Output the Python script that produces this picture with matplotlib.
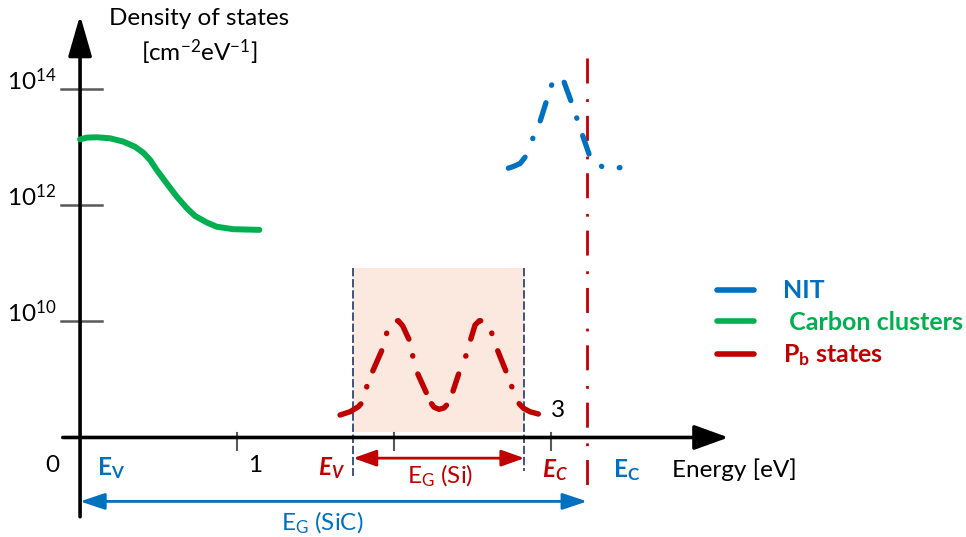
import matplotlib
matplotlib.use("Agg")
import matplotlib.pyplot as plt
from matplotlib.lines import Line2D

# ---- values (energy in eV, DOS in cm^-2 eV^-1) ----
carbon_energy = [0.0, 0.043, 0.106, 0.191, 0.276, 0.350, 0.403, 0.446, 0.488, 0.552,
                 0.616, 0.680, 0.732, 0.807, 0.871, 0.976, 1.142]
carbon_dos = [1.38e13, 1.48e13, 1.50e13, 1.44e13, 1.26e13, 1.03e13, 8.1e12, 6.1e12, 4.1e12,
              2.4e12, 1.42e12, 9.0e11, 6.6e11, 5.1e11, 4.3e11, 3.9e11, 3.8e11]

nit_energy = [2.728, 2.760, 2.803, 2.845, 2.884, 2.926, 2.973, 3.004, 3.045, 3.078, 3.132,
              3.164, 3.196, 3.248, 3.323, 3.418, 3.439]
nit_dos = [4.4e12, 4.7e12, 5.3e12, 7.4e12, 1.44e13, 2.6e13, 6.6e13, 1.2e14, 1.52e14, 1.46e14,
           5.8e13, 3.2e13, 1.76e13, 6.9e12, 4.7e12, 4.4e12, 4.5e12]

pb_energy = [1.656, 1.720, 1.773, 1.801, 1.826, 1.858, 1.928, 1.953, 2.006, 2.027, 2.055,
             2.085, 2.102, 2.119, 2.145, 2.212, 2.229, 2.255, 2.287, 2.318, 2.346, 2.378,
             2.416, 2.457, 2.484, 2.516, 2.543, 2.569, 2.622, 2.654, 2.718, 2.750, 2.785,
             2.824, 2.866, 2.919]
pb_dos = [2.44e8, 2.78e8, 3.40e8, 4.14e8, 7.5e8, 1.28e9, 3.45e9, 6.3e9, 1.02e10, 1.03e10,
          8.4e9, 5.6e9, 4.5e9, 2.54e9, 1.36e9, 5.4e8, 4.14e8, 3.32e8, 3.06e8, 3.23e8, 3.89e8,
          6.6e8, 1.36e9, 2.54e9, 4.5e9, 8.7e9, 1.03e10, 1.03e10, 6.3e9, 3.45e9, 1.28e9,
          7.5e8, 4.14e8, 3.19e8, 2.78e8, 2.54e8]

si_ev, si_ec = 1.74, 2.83       # Si band edges inside the SiC gap
sic_ec = 3.23                   # SiC conduction band edge
x_ticks = [1, 2, 3]
y_ticks = [1e10, 1e12, 1e14]
y_tick_labels = [r"$\mathregular{10^{10}}$", r"$\mathregular{10^{12}}$", r"$\mathregular{10^{14}}$"]

BLUE = "#0070C0"
GREEN = "#00B050"
RED = "#C00000"
NAVY = "#1F3864"
PEACH = "#FBE9E0"
GREY = "#595959"

# hand-drawn dash-dot sequences (pixels along the curve), as in the original drawing
PX = 0.72
nit_dashes = [v * PX for v in [20.7, 20.2, 0.4, 18.9, 19, 18.3, 0.4, 16.6, 19.4, 18.3,
                               0.4, 18.3, 19.4, 17.9, 0.4, 17.6, 10, 10]]
pb_dashes = [v * PX for v in [24, 18.2, 0.4, 16.8, 21.9, 18, 0.4, 17.3, 22.1, 17.1,
                              0.4, 18.7, 20.2, 12.6, 18.5, 15.8, 17.9, 19.3, 0.4, 17.4,
                              22.1, 17.6, 0.4, 18.3, 21.5, 16.8, 0.4, 18.5, 30, 10]]

plt.rcParams["font.family"] = ["Lato", "DejaVu Sans"]
plt.rcParams["mathtext.fontset"] = "custom"
plt.rcParams["mathtext.rm"] = "Lato"
plt.rcParams["mathtext.it"] = "Lato:italic"
plt.rcParams["mathtext.bf"] = "Lato:bold"
plt.rcParams["mathtext.bfit"] = "Lato:italic:bold"
plt.rcParams["lines.scale_dashes"] = False

fig = plt.figure(figsize=(9.66, 5.37), dpi=100)
ax = fig.add_axes([0, 0, 1, 1])
ax.set_yscale("log")
ax.set_xlim(-0.51, 5.643)
ax.set_ylim(10 ** 6.284, 10 ** 15.543)
ax.axis("off")

fs = 17.5

# Si band-gap window
ax.fill_between([si_ev, si_ec], 1.24e8, 8.3e10, color=PEACH, lw=0, zorder=0)
ax.plot([si_ev, si_ev], [8.3e10, 2.2e7], color=NAVY, lw=1.2, ls=(0, (6, 2)), zorder=1)
ax.plot([si_ec, si_ec], [8.3e10, 2.6e7], color=NAVY, lw=1.2, ls=(0, (6, 2)), zorder=1)

# axes with arrow heads
ax.annotate("", xy=(4.13, 1e8), xytext=(-0.11, 1e8),
            arrowprops=dict(arrowstyle="-|>,head_length=1.05,head_width=0.38",
                            mutation_scale=20, lw=2.6, color="black",
                            shrinkA=0, shrinkB=0), zorder=3)
ax.annotate("", xy=(0, 10 ** 15.28), xytext=(0, 4.3e6),
            arrowprops=dict(arrowstyle="-|>,head_length=1.25,head_width=0.36",
                            mutation_scale=20, lw=2.6, color="black",
                            shrinkA=0, shrinkB=0), zorder=3)

# ticks
for xt in x_ticks:
    ax.plot([xt, xt], [1.2e8, 6.0e7], color=GREY, lw=1.5, zorder=2)
for yt, lab in zip(y_ticks, y_tick_labels):
    ax.plot([-0.12, 0.14], [yt, yt], color=GREY, lw=1.8, zorder=2)
    ax.text(-0.15, yt, lab, ha="right", va="baseline", fontsize=fs)

# SiC conduction band edge (dash-dot)
ax.plot([sic_ec, sic_ec], [3.5e14, 9.4e6], color=RED, lw=2.0,
        ls=(0, (18, 11.3, 2, 10)), dash_capstyle="butt", zorder=2)

# state densities
ax.plot(carbon_energy, carbon_dos, color=GREEN, lw=4.3, solid_capstyle="round",
        solid_joinstyle="round", zorder=4)
ax.plot(nit_energy, nit_dos, color=BLUE, lw=3.8, ls=(0, nit_dashes),
        dash_capstyle="round", dash_joinstyle="round", zorder=4)
ax.plot(pb_energy, pb_dos, color=RED, lw=3.9, ls=(0, pb_dashes),
        dash_capstyle="round", dash_joinstyle="round", zorder=4)

# band-gap arrows
ax.annotate("", xy=(si_ec, 4.4e7), xytext=(si_ev, 4.4e7),
            arrowprops=dict(arrowstyle="<|-|>,head_length=0.7,head_width=0.25",
                            mutation_scale=20, lw=2.0, color=RED,
                            shrinkA=0, shrinkB=0))
ax.annotate("", xy=(sic_ec, 7.9e6), xytext=(0, 7.9e6),
            arrowprops=dict(arrowstyle="<|-|>,head_length=0.75,head_width=0.25",
                            mutation_scale=20, lw=2.0, color=BLUE,
                            shrinkA=0, shrinkB=0))

# labels
ax.text(0.758, 10 ** 15.22, "Density of states", ha="center", va="center", fontsize=fs)
ax.text(0.758, 10 ** 14.50, r"[cm$^\mathregular{-2}$eV$^\mathregular{-1}$]",
        ha="center", va="baseline", fontsize=fs)
ax.text(-0.178, 10 ** 7.51, "0", ha="center", va="center", fontsize=fs)
ax.text(1.115, 10 ** 7.51, "1", ha="center", va="center", fontsize=fs)
ax.text(3.045, 10 ** 8.46, "3", ha="center", va="center", fontsize=fs)
ax.text(0.108, 10 ** 7.34, r"$\mathbf{E}_\mathbf{V}$", ha="left", va="baseline",
        fontsize=fs, color=BLUE)
ax.text(1.688, 10 ** 7.34, r"$\mathbfit{E}_\mathbfit{V}$", ha="right", va="baseline",
        fontsize=fs, color=RED)
ax.text(2.943, 10 ** 7.32, r"$\mathbfit{E}_\mathbfit{C}$", ha="left", va="baseline",
        fontsize=fs, color=RED)
ax.text(3.395, 10 ** 7.32, r"$\mathbf{E}_\mathbf{C}$", ha="left", va="baseline",
        fontsize=fs, color=BLUE)
ax.text(3.771, 10 ** 7.32, "Energy [eV]", ha="left", va="baseline", fontsize=fs)
ax.text(2.293, 10 ** 7.21, r"E$_\mathregular{G}$ (Si)", ha="center", va="baseline",
        fontsize=fs, color=RED)
ax.text(1.541, 10 ** 6.405, r"E$_\mathregular{G}$ (SiC)", ha="center", va="baseline",
        fontsize=fs, color=BLUE)

# legend (solid proxies like the original)
handles = [Line2D([], [], color=BLUE, lw=4, solid_capstyle="round"),
           Line2D([], [], color=GREEN, lw=4, solid_capstyle="round"),
           Line2D([], [], color=RED, lw=4, solid_capstyle="round")]
labels = ["NIT", " Carbon clusters", r"$\mathbf{P_b}$ states"]
leg = ax.legend(handles, labels, loc="center left", bbox_to_anchor=(0.742, 0.397),
                bbox_transform=fig.transFigure, frameon=False, fontsize=18,
                handlelength=1.48, handletextpad=1.16, labelspacing=0.34,
                borderaxespad=0, borderpad=0)
for txt, c in zip(leg.get_texts(), [BLUE, GREEN, RED]):
    txt.set_color(c)
    txt.set_fontweight("bold")

fig.savefig("out.png", dpi=100)
